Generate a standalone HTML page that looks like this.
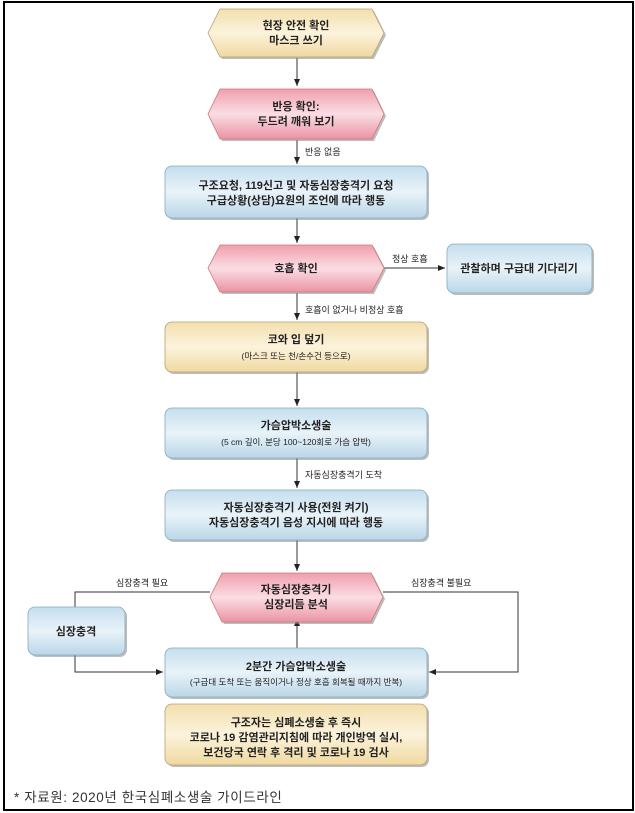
<!DOCTYPE html>
<html><head><meta charset="utf-8"><style>
html,body{margin:0;padding:0;background:#fff}
svg{display:block}
text{font-family:"Liberation Sans","Noto Sans CJK KR",sans-serif;fill:#222;text-anchor:middle}
.m{font-weight:bold}
</style></head><body>
<svg width="635" height="813" viewBox="0 0 635 813" xmlns="http://www.w3.org/2000/svg">
<defs>
<linearGradient id="y" x1="0" y1="0" x2="0" y2="1"><stop offset="0" stop-color="#f3dfae"/><stop offset="0.5" stop-color="#fcf3dc"/><stop offset="1" stop-color="#f0d9a0"/></linearGradient>
<linearGradient id="p" x1="0" y1="0" x2="0" y2="1"><stop offset="0" stop-color="#ef9fae"/><stop offset="0.5" stop-color="#fbdde3"/><stop offset="1" stop-color="#ea93a4"/></linearGradient>
<linearGradient id="b" x1="0" y1="0" x2="0" y2="1"><stop offset="0" stop-color="#c4deee"/><stop offset="0.5" stop-color="#e9f3f9"/><stop offset="1" stop-color="#b9d6e8"/></linearGradient>
<marker id="a" markerWidth="8" markerHeight="8" refX="7" refY="4" orient="auto" markerUnits="userSpaceOnUse"><path d="M0,1 L7,4 L0,7z" fill="#222"/></marker>
</defs>
<rect x="4" y="2" width="629" height="808" fill="none" stroke="#000" stroke-width="2"/>

<g stroke="#333" stroke-width="1" fill="none">
<line x1="297" y1="58" x2="297" y2="86" marker-end="url(#a)"/>
<line x1="297" y1="140" x2="297" y2="164" marker-end="url(#a)"/>
<line x1="297" y1="218" x2="297" y2="243" marker-end="url(#a)"/>
<line x1="384" y1="268" x2="445" y2="268" marker-end="url(#a)"/>
<line x1="297" y1="293" x2="297" y2="320" marker-end="url(#a)"/>
<line x1="297" y1="372" x2="297" y2="406" marker-end="url(#a)"/>
<line x1="297" y1="458" x2="297" y2="488" marker-end="url(#a)"/>
<line x1="297" y1="540" x2="297" y2="571" marker-end="url(#a)"/>
<line x1="297" y1="648" x2="297" y2="619" marker-end="url(#a)"/>
<polyline points="210,592 75,592 75,607"/>
<polyline points="75,655 75,672 163,672" marker-end="url(#a)"/>
<polyline points="383,592 518,592 518,672 429,672" marker-end="url(#a)"/>
</g>

<g fill="#888" opacity="0.55">
<polygon points="222,11 374,11 386,35 374,59 222,59 210,35"/>
<polygon points="222,91 374,91 386,116 374,141 222,141 210,116"/>
<rect x="167" y="168" width="262" height="52" rx="7"/>
<polygon points="222,247 374,247 386,270 374,294 222,294 210,270"/>
<rect x="449" y="246" width="145" height="49" rx="7"/>
<rect x="167" y="324" width="262" height="50" rx="7"/>
<rect x="167" y="410" width="262" height="50" rx="7"/>
<rect x="167" y="492" width="262" height="50" rx="7"/>
<polygon points="224,575 373,575 385,599 373,624 224,624 212,599"/>
<rect x="30" y="609" width="97" height="48" rx="7"/>
<rect x="167" y="650" width="262" height="49" rx="7"/>
<rect x="167" y="706" width="262" height="61" rx="7"/>
</g>

<polygon points="220,9 372,9 384,33 372,57 220,57 208,33" fill="url(#y)" stroke="#b8a070" stroke-width="0.8"/>
<polygon points="220,89 372,89 384,114 372,139 220,139 208,114" fill="url(#p)" stroke="#c77" stroke-width="0.8"/>
<rect x="165" y="166" width="262" height="52" rx="7" fill="url(#b)" stroke="#8ab" stroke-width="0.8"/>
<polygon points="220,245 372,245 384,268 372,292 220,292 208,268" fill="url(#p)" stroke="#c77" stroke-width="0.8"/>
<rect x="447" y="244" width="145" height="49" rx="7" fill="url(#b)" stroke="#8ab" stroke-width="0.8"/>
<rect x="165" y="322" width="262" height="50" rx="7" fill="url(#y)" stroke="#b8a070" stroke-width="0.8"/>
<rect x="165" y="408" width="262" height="50" rx="7" fill="url(#b)" stroke="#8ab" stroke-width="0.8"/>
<rect x="165" y="490" width="262" height="50" rx="7" fill="url(#b)" stroke="#8ab" stroke-width="0.8"/>
<polygon points="222,573 371,573 383,597 371,622 222,622 210,597" fill="url(#p)" stroke="#c77" stroke-width="0.8"/>
<rect x="28" y="607" width="97" height="48" rx="7" fill="url(#b)" stroke="#8ab" stroke-width="0.8"/>
<rect x="165" y="648" width="262" height="49" rx="7" fill="url(#b)" stroke="#8ab" stroke-width="0.8"/>
<rect x="165" y="704" width="262" height="61" rx="7" fill="url(#y)" stroke="#b8a070" stroke-width="0.8"/>

<g font-size="11" class="m">
<text x="296" y="29">현장 안전 확인</text><text x="296" y="44">마스크 쓰기</text>
<text x="296" y="110">반응 확인:</text><text x="296" y="125">두드려 깨워 보기</text>
<text x="296" y="189">구조요청, 119신고 및 자동심장충격기 요청</text><text x="296" y="204">구급상황(상담)요원의 조언에 따라 행동</text>
<text x="296" y="272">호흡 확인</text>
<text x="519" y="272">관찰하며 구급대 기다리기</text>
<text x="296" y="343">코와 입 덮기</text>
<text x="296" y="429">가슴압박소생술</text>
<text x="296" y="511">자동심장충격기 사용(전원 켜기)</text><text x="296" y="526">자동심장충격기 음성 지시에 따라 행동</text>
<text x="296" y="593">자동심장충격기</text><text x="296" y="608">심장리듬 분석</text>
<text x="76" y="635">심장충격</text>
<text x="296" y="670">2분간 가슴압박소생술</text>
<text x="296" y="726">구조자는 심폐소생술 후 즉시</text><text x="296" y="741">코로나 19 감염관리지침에 따라 개인방역 실시,</text><text x="296" y="756">보건당국 연락 후 격리 및 코로나 19 검사</text>
</g>
<g font-size="8.5">
<text x="296" y="359">(마스크 또는 천/손수건 등으로)</text>
<text x="296" y="445">(5 cm 깊이, 분당 100~120회로 가슴 압박)</text>
<text x="296" y="685">(구급대 도착 또는 움직이거나 정상 호흡 회복될 때까지 반복)</text>
</g>
<g font-size="9">
<text x="305" y="155" style="text-anchor:start">반응 없음</text>
<text x="392" y="262" style="text-anchor:start">정상 호흡</text>
<text x="305" y="313" style="text-anchor:start">호흡이 없거나 비정상 호흡</text>
<text x="305" y="478" style="text-anchor:start">자동심장충격기 도착</text>
<text x="116" y="586" style="text-anchor:start">심장충격 필요</text>
<text x="411" y="586" style="text-anchor:start">심장충격 불필요</text>
</g>
<text x="14" y="802" font-size="13.5" style="text-anchor:start;fill:#333;letter-spacing:0.6px">* 자료원: 2020년  한국심폐소생술  가이드라인</text>
</svg>
</body></html>
